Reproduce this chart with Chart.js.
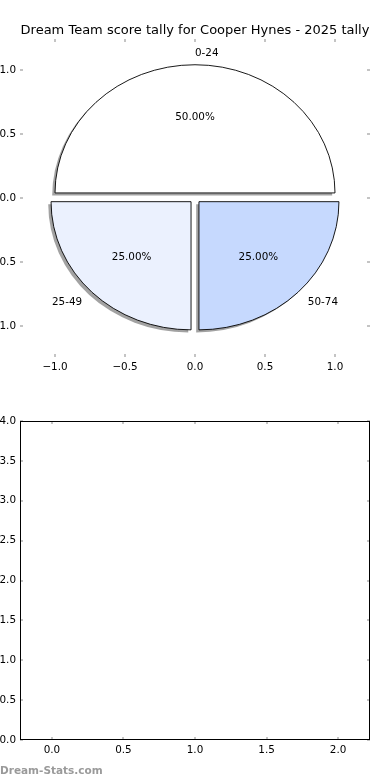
<!DOCTYPE html>
<html>
<head>
<meta charset="utf-8">
<script src="https://cdn.jsdelivr.net/npm/chart.js@4.4.1/dist/chart.umd.min.js"></script>
<style>
html, body { margin: 0; padding: 0; background: #fff; }
#wrap { position: relative; width: 390px; height: 780px; overflow: hidden; }
#pieChart { position: absolute; left: 0; top: 0; }
#emptyChart { position: absolute; left: 0; top: 390px; }
#mark { position: absolute; left: 0; top: 763px; font: bold 10.5px "DejaVu Sans"; color: #9a9a9a; line-height: 14px; }
</style>
</head>
<body>
<div id="wrap">
    <canvas id="pieChart" width="390" height="390"></canvas>
    <canvas id="emptyChart" width="390" height="390"></canvas>
    <div id="mark">Dream-Stats.com</div>
</div>
<script>
const chartTitle = 'Dream Team score tally for Cooper Hynes - 2025 tally';
const sliceLabels = ['0-24', '25-49', '50-74'];
const sliceValues = [2, 1, 1];
const pieTicks = [-1.0, -0.5, 0.0, 0.5, 1.0];
const emptyXTicks = [0.0, 0.5, 1.0, 1.5, 2.0];
const emptyYTicks = [0.0, 0.5, 1.0, 1.5, 2.0, 2.5, 3.0, 3.5, 4.0];

const sliceColors = ['#ffffff', '#ebf1fe', '#c6d9fe'];
const FONT = 'DejaVu Sans';
const tickFont = {family: FONT, size: 10.4};

// matplotlib style number, with a real minus sign
function fmt(v) {
    return Number(v).toFixed(1).replace('-', '\u2212');
}

function setTicks(values) {
    return axis => { axis.ticks = values.map(v => ({value: v})); };
}

// small grey ticks pointing into the plot, on all four sides
const tickMarks = {
    id: 'tickMarks',
    afterDraw(chart, args, opts) {
        const ctx = chart.ctx;
        const a = chart.chartArea;
        const x = chart.scales.x, y = chart.scales.y;
        ctx.save();
        ctx.strokeStyle = '#c4c4c4';
        ctx.lineWidth = 2;
        ctx.beginPath();
        x.ticks.forEach(t => {
            const px = Math.round(x.getPixelForValue(t.value));
            ctx.moveTo(px, a.top); ctx.lineTo(px, a.top + 3);
            ctx.moveTo(px, a.bottom); ctx.lineTo(px, a.bottom - 3);
        });
        y.ticks.forEach(t => {
            const py = Math.round(y.getPixelForValue(t.value));
            ctx.moveTo(a.left, py); ctx.lineTo(a.left + 3, py);
            ctx.moveTo(a.right, py); ctx.lineTo(a.right - 3, py);
        });
        ctx.stroke();
        if (opts.frame) {
            ctx.strokeStyle = '#000';
            ctx.lineWidth = 1;
            ctx.strokeRect(Math.round(a.left) + 0.5, Math.round(a.top) + 0.5,
                Math.round(a.right - a.left) - 1, Math.round(a.bottom - a.top) - 1);
        }
        ctx.restore();
    }
};

// exploded pie with shadows, drawn in data units so it follows the axes
const ellipsePie = {
    id: 'ellipsePie',
    afterDatasetsDraw(chart) {
        const ctx = chart.ctx;
        const x = chart.scales.x, y = chart.scales.y;
        const total = sliceValues.reduce((s, v) => s + v, 0);
        const rx = x.getPixelForValue(1) - x.getPixelForValue(0);
        const ry = y.getPixelForValue(0) - y.getPixelForValue(1);
        const explode = 0.04;

        let start = 0;
        const wedges = sliceValues.map((v, i) => {
            const sweep = v / total * 2 * Math.PI;
            const mid = start + sweep / 2;
            const w = {i, start, end: start + sweep, mid,
                cx: explode * Math.cos(mid), cy: explode * Math.sin(mid)};
            start += sweep;
            return w;
        });

        function wedgePath(w, ox, oy) {
            const px = x.getPixelForValue(w.cx + ox);
            const py = y.getPixelForValue(w.cy + oy);
            ctx.beginPath();
            ctx.moveTo(px, py);
            ctx.ellipse(px, py, rx, ry, 0, -w.start, -w.end, true);
            ctx.closePath();
        }

        ctx.save();
        // shadows sit under every wedge
        wedges.forEach(w => {
            wedgePath(w, -0.02, -0.02);
            ctx.fillStyle = 'rgba(70,70,70,0.5)';
            ctx.fill();
        });
        wedges.forEach(w => {
            wedgePath(w, 0, 0);
            ctx.fillStyle = sliceColors[w.i];
            ctx.fill();
            ctx.strokeStyle = '#000';
            ctx.lineWidth = 0.9;
            ctx.stroke();
        });

        ctx.fillStyle = '#000';
        ctx.font = '10.4px "' + FONT + '"';
        ctx.textBaseline = 'middle';
        wedges.forEach(w => {
            const lx = w.cx + 1.1 * Math.cos(w.mid);
            const ly = w.cy + 1.1 * Math.sin(w.mid);
            ctx.textAlign = lx > 0 ? 'left' : 'right';
            ctx.fillText(sliceLabels[w.i], x.getPixelForValue(lx), y.getPixelForValue(ly) + 1);
            const tx = w.cx + 0.6 * Math.cos(w.mid);
            const ty = w.cy + 0.6 * Math.sin(w.mid);
            ctx.textAlign = 'center';
            const pct = (sliceValues[w.i] / total * 100).toFixed(2) + '%';
            ctx.fillText(pct, x.getPixelForValue(tx), y.getPixelForValue(ty) + 1);
        });
        ctx.restore();
    }
};

function axisOptions(min, max, values, fit) {
    return {
        type: 'linear',
        min: min,
        max: max,
        afterBuildTicks: setTicks(values),
        afterFit: fit,
        grid: {display: false, drawTicks: false},
        border: {display: false},
        ticks: {color: '#000', font: tickFont, padding: 4, callback: fmt, autoSkip: false, maxRotation: 0}
    };
}

const hiddenRight = {
    type: 'linear',
    position: 'right',
    afterFit: s => { s.width = 20; },
    grid: {display: false, drawTicks: false},
    border: {display: false},
    ticks: {display: false}
};

new Chart(document.getElementById('pieChart'), {
    type: 'scatter',
    data: {datasets: [{data: []}]},
    options: {
        responsive: false,
        animation: false,
        layout: {padding: 0},
        plugins: {
            legend: {display: false},
            tooltip: {enabled: false},
            title: {
                display: true,
                text: chartTitle,
                color: '#000',
                font: {family: FONT, size: 13, weight: 'normal'},
                padding: {top: 23, bottom: 0.5}
            },
            tickMarks: {frame: false}
        },
        scales: {
            x: axisOptions(-1.25, 1.25, pieTicks, s => { s.height = 33; }),
            y: axisOptions(-1.24, 1.24, pieTicks, s => { s.width = 20; }),
            y2: hiddenRight
        }
    },
    plugins: [ellipsePie, tickMarks]
});

new Chart(document.getElementById('emptyChart'), {
    type: 'scatter',
    data: {datasets: [{data: []}]},
    options: {
        responsive: false,
        animation: false,
        layout: {padding: {top: 31}},
        plugins: {
            legend: {display: false},
            tooltip: {enabled: false},
            tickMarks: {frame: true}
        },
        scales: {
            x: axisOptions(-0.223, 2.223, emptyXTicks, s => { s.height = 40; }),
            y: axisOptions(0, 4, emptyYTicks, s => { s.width = 20; }),
            y2: hiddenRight
        }
    },
    plugins: [tickMarks]
});
</script>
</body>
</html>
